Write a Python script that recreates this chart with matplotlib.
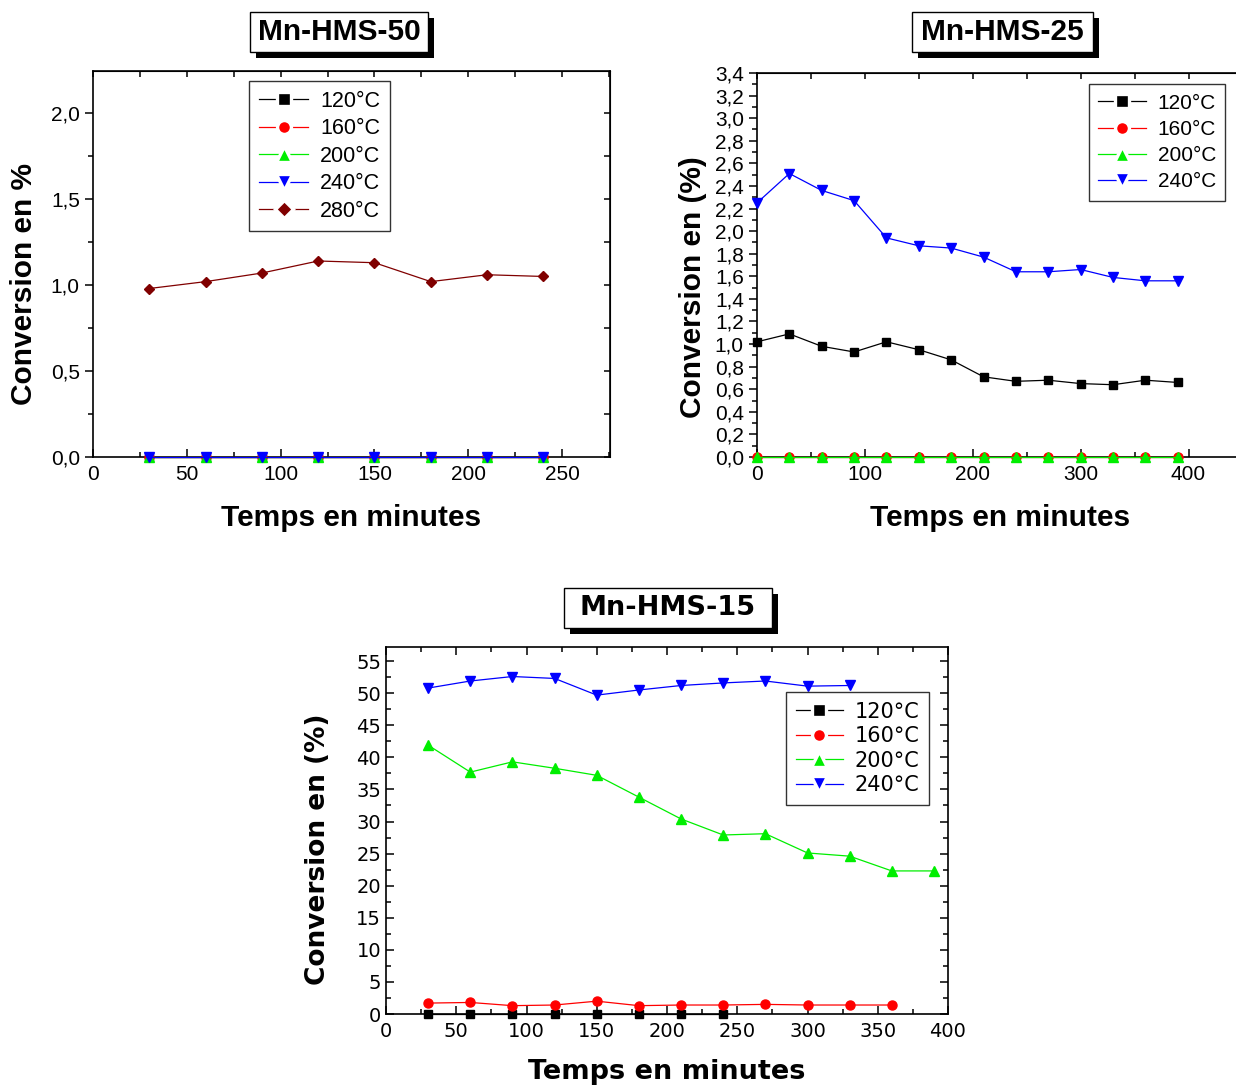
import matplotlib
matplotlib.use('Agg')
import matplotlib.pyplot as plt
from matplotlib.patches import Rectangle
from matplotlib.ticker import MultipleLocator, FuncFormatter

# ---------------- data ----------------
# Mn-HMS-50
t50 = [30, 60, 90, 120, 150, 180, 210, 240]
c50_120 = [0, 0, 0, 0, 0, 0, 0, 0]
c50_160 = [0, 0, 0, 0, 0, 0, 0, 0]
c50_200 = [0, 0, 0, 0, 0, 0, 0, 0]
c50_240 = [0, 0, 0, 0, 0, 0, 0, 0]
c50_280 = [0.98, 1.02, 1.07, 1.14, 1.13, 1.02, 1.06, 1.05]

# Mn-HMS-25
t25 = [0, 30, 60, 90, 120, 150, 180, 210, 240, 270, 300, 330, 360, 390]
c25_120 = [1.02, 1.09, 0.98, 0.93, 1.02, 0.95, 0.86, 0.71, 0.67, 0.68, 0.65, 0.64, 0.68, 0.66]
c25_160 = [0, 0, 0, 0, 0, 0, 0, 0, 0, 0, 0, 0, 0, 0]
c25_200 = [0, 0, 0, 0, 0, 0, 0, 0, 0, 0, 0, 0, 0, 0]
c25_240 = [2.25, 2.51, 2.36, 2.27, 1.94, 1.87, 1.85, 1.77, 1.64, 1.64, 1.66, 1.59, 1.56, 1.56]

# Mn-HMS-15
t15_120 = [30, 60, 90, 120, 150, 180, 210, 240]
c15_120 = [0, 0, 0, 0, 0, 0, 0, 0]
t15_160 = [30, 60, 90, 120, 150, 180, 210, 240, 270, 300, 330, 360]
c15_160 = [1.7, 1.8, 1.3, 1.4, 2.0, 1.3, 1.4, 1.4, 1.5, 1.4, 1.4, 1.4]
t15_200 = [30, 60, 90, 120, 150, 180, 210, 240, 270, 300, 330, 360, 390]
c15_200 = [41.9, 37.7, 39.3, 38.3, 37.2, 33.8, 30.4, 27.9, 28.1, 25.1, 24.6, 22.3, 22.3]
t15_240 = [30, 60, 90, 120, 150, 180, 210, 240, 270, 300, 330]
c15_240 = [50.8, 51.9, 52.6, 52.3, 49.7, 50.5, 51.2, 51.6, 51.9, 51.1, 51.2]

labels = ['120°C', '160°C', '200°C', '240°C', '280°C']
colors = ['#000000', '#ff0000', '#00ee00', '#0000ff', '#800000']
markers = ['s', 'o', '^', 'v', 'D']
msizes = [6, 6.5, 7.5, 7.5, 5.5]

W, H = 1236, 1088
fig = plt.figure(figsize=(W / 100, H / 100), dpi=100)

ARIAL = 'Liberation Sans'
DJV = 'DejaVu Sans'


def ax_px(l, t, r, b):
    return fig.add_axes([l / W, 1 - b / H, (r - l) / W, (b - t) / H])


def comma(dec):
    return FuncFormatter(lambda v, p: (f"{v:.{dec}f}").replace('.', ','))


def plot_series(ax, xs, ys, i):
    ax.plot(xs, ys, color=colors[i], marker=markers[i], markersize=msizes[i],
            linewidth=0.9, label=labels[i], clip_on=False, zorder=3)


def title_box(l, t, r, b, text, family, size):
    sh = 6
    fig.patches.append(Rectangle(((l + sh) / W, 1 - (b + sh) / H), (r - l) / W, (b - t) / H,
                                 transform=fig.transFigure, facecolor='black',
                                 edgecolor='none', zorder=1))
    fig.patches.append(Rectangle((l / W, 1 - b / H), (r - l) / W, (b - t) / H,
                                 transform=fig.transFigure, facecolor='white',
                                 edgecolor='black', linewidth=1.0, zorder=2))
    fig.text((l + r) / 2 / W, 1 - (t + b) / 2 / H, text, ha='center', va='center',
             family=family, fontweight='bold', fontsize=size, zorder=3)


def style_axes(ax, left_dir, family, tsize):
    for s in ax.spines.values():
        s.set_linewidth(1.2)
    ax.tick_params(axis='x', which='both', direction='in', top=False, labelsize=tsize,
                   width=1.1, pad=6)
    ax.tick_params(axis='y', which='both', direction=left_dir, right=False,
                   labelsize=tsize, width=1.1)
    ax.tick_params(which='major', length=6)
    ax.tick_params(which='minor', length=3.5)
    for lab in ax.get_xticklabels() + ax.get_yticklabels():
        lab.set_family(family)


def legend(ax, anchor, family, size, spacing):
    leg = ax.legend(loc='upper left', bbox_to_anchor=anchor, borderaxespad=0,
                    prop={'family': family, 'size': size}, handlelength=2.3,
                    handletextpad=0.55, labelspacing=spacing, borderpad=0.45,
                    fancybox=False, framealpha=1, edgecolor='#333333')
    leg.get_frame().set_linewidth(1.0)
    for h in leg.legend_handles:
        h.set_markeredgecolor('white')
        h.set_markeredgewidth(2.4)
        h.set_markersize(h.get_markersize() + 3.5)
    return leg


# ---------------- Mn-HMS-50 ----------------
ax1 = ax_px(93, 71, 610, 457)
plot_series(ax1, t50, c50_120, 0)
plot_series(ax1, t50, c50_160, 1)
plot_series(ax1, t50, c50_200, 2)
plot_series(ax1, t50, c50_240, 3)
plot_series(ax1, t50, c50_280, 4)
ax1.set_xlim(0, 275.5)
ax1.set_ylim(0, 2.245)
ax1.xaxis.set_major_locator(MultipleLocator(50))
ax1.xaxis.set_minor_locator(MultipleLocator(25))
ax1.yaxis.set_major_locator(MultipleLocator(0.5))
ax1.yaxis.set_minor_locator(MultipleLocator(0.25))
ax1.yaxis.set_major_formatter(comma(1))
style_axes(ax1, 'out', ARIAL, 15)
sx = ax1.secondary_xaxis('top')
sx.xaxis.set_major_locator(MultipleLocator(25))
sx.tick_params(direction='in', length=4, width=1.1, labeltop=False)
sy = ax1.secondary_yaxis('right')
sy.yaxis.set_major_locator(MultipleLocator(0.25))
sy.tick_params(direction='in', length=4, width=1.1, labelright=False)
legend(ax1, (0.302, 0.974), ARIAL, 15.5, 0.3)
title_box(250, 12, 428, 52, 'Mn-HMS-50', ARIAL, 21.5)
fig.text(24 / W, 1 - 284 / H, 'Conversion en %', rotation=90, ha='center', va='center',
         family=ARIAL, fontweight='bold', fontsize=21.5)
fig.text(351 / W, 1 - 518 / H, 'Temps en minutes', ha='center', va='center',
         family=ARIAL, fontweight='bold', fontsize=21.5)

# ---------------- Mn-HMS-25 ----------------
ax2 = ax_px(757, 73, 1236, 457)
plot_series(ax2, t25, c25_120, 0)
plot_series(ax2, t25, c25_160, 1)
plot_series(ax2, t25, c25_200, 2)
plot_series(ax2, t25, c25_240, 3)
ax2.set_xlim(0, 444)
ax2.set_ylim(0, 3.4)
ax2.xaxis.set_major_locator(MultipleLocator(100))
ax2.xaxis.set_minor_locator(MultipleLocator(50))
ax2.yaxis.set_major_locator(MultipleLocator(0.2))
ax2.yaxis.set_minor_locator(MultipleLocator(0.1))
ax2.yaxis.set_major_formatter(comma(1))
style_axes(ax2, 'out', ARIAL, 15)
ax2.spines['right'].set_visible(False)
sx2 = ax2.secondary_xaxis('top')
sx2.xaxis.set_major_locator(MultipleLocator(50))
sx2.tick_params(direction='in', length=4, width=1.1, labeltop=False)
legend(ax2, (0.693, 0.971), ARIAL, 15, 0.35)
title_box(912, 12, 1093, 52, 'Mn-HMS-25', ARIAL, 21.5)
fig.text(693 / W, 1 - 287 / H, 'Conversion en (%)', rotation=90, ha='center', va='center',
         family=ARIAL, fontweight='bold', fontsize=21.5)
fig.text(1000 / W, 1 - 518 / H, 'Temps en minutes', ha='center', va='center',
         family=ARIAL, fontweight='bold', fontsize=21.5)

# ---------------- Mn-HMS-15 ----------------
ax3 = ax_px(386, 647, 948, 1014)
plot_series(ax3, t15_120, c15_120, 0)
plot_series(ax3, t15_160, c15_160, 1)
plot_series(ax3, t15_200, c15_200, 2)
plot_series(ax3, t15_240, c15_240, 3)
ax3.set_xlim(0, 400)
ax3.set_ylim(0, 57.2)
ax3.xaxis.set_major_locator(MultipleLocator(50))
ax3.xaxis.set_minor_locator(MultipleLocator(25))
ax3.yaxis.set_major_locator(MultipleLocator(5))
ax3.yaxis.set_minor_locator(MultipleLocator(2.5))
style_axes(ax3, 'in', DJV, 14)
ax3.tick_params(axis='y', which='both', right=True)
ax3.tick_params(axis='x', which='both', top=True)
legend(ax3, (0.712, 0.877), DJV, 15, 0.22)
title_box(564, 588, 772, 628, 'Mn-HMS-15', DJV, 19.5)
fig.text(318 / W, 1 - 849 / H, 'Conversion en (%)', rotation=90, ha='center', va='center',
         family=DJV, fontweight='bold', fontsize=19)
fig.text(667 / W, 1 - 1072 / H, 'Temps en minutes', ha='center', va='center',
         family=DJV, fontweight='bold', fontsize=19.5)

fig.savefig('out.png', dpi=100, facecolor='white')
